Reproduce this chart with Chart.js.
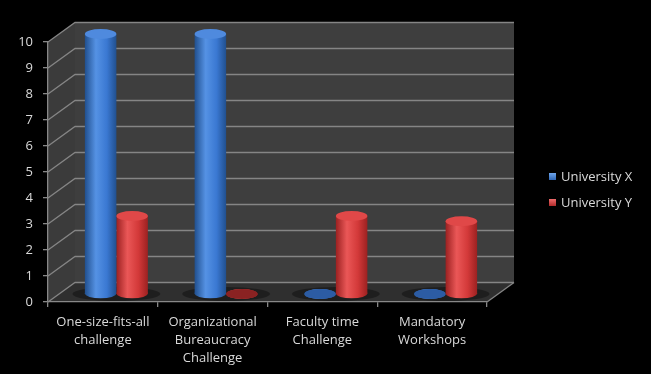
<!DOCTYPE html>
<html>
<head>
<meta charset="utf-8">
<script src="https://cdn.jsdelivr.net/npm/chart.js@4/dist/chart.umd.min.js"></script>
<style>
  html, body { margin: 0; padding: 0; background: #000; }
  #wrap { position: relative; width: 651px; height: 374px; background: #000; }
  .leg { position: absolute; left: 549px; font: 13px "Open Sans"; color: #d9d9d9; line-height: 18px; white-space: nowrap; }
  .leg i { display: inline-block; width: 7px; height: 7px; margin-right: 5px; vertical-align: 1px; }
</style>
</head>
<body>
<div id="wrap">
  <canvas id="myChart" width="651" height="374"></canvas>
  <div class="leg" style="top:167px"><i style="background:linear-gradient(#6fa6ec,#2f66b4)"></i>University X</div>
  <div class="leg" style="top:193px"><i style="background:linear-gradient(#ee6b6b,#b02a2a)"></i>University Y</div>
</div>
<script>
const categories = [
  ["One-size-fits-all", "challenge"],
  ["Organizational", "Bureaucracy", "Challenge"],
  ["Faculty time", "Challenge"],
  ["Mandatory", "Workshops"]
];
const universityX = [10, 10, 0, 0];
const universityY = [3, 0, 3, 2.8];
const yTicks = [0, 1, 2, 3, 4, 5, 6, 7, 8, 9, 10];

const DX = 27, DY = 19.5;      // depth of the 3d box
const BX = 13.5, BY = -8;      // bars sit at mid depth
const CAT_PCT = 0.574;

const colors = {
  blue: { edge: "#21508f", light: "#5592e4", mid: "#3a78d2", cap: "#4f8ade", flat: "#2c5ca4" },
  red: { edge: "#9c2121", light: "#ea5757", mid: "#d33939", cap: "#e04848", flat: "#8a2222" }
};

function cylFill(c, pal) {
  if (c.type !== "data") return pal.mid;
  const chart = c.chart, x = chart.scales.x;
  if (!x || !x.width) return pal.mid;
  const w = (x.width / categories.length) * CAT_PCT / 2;
  const cx = x.getPixelForValue(c.dataIndex) + (c.datasetIndex === 0 ? -w / 2 : w / 2);
  const g = chart.ctx.createLinearGradient(cx - w / 2, 0, cx + w / 2, 0);
  g.addColorStop(0, pal.edge);
  g.addColorStop(0.35, pal.light);
  g.addColorStop(0.7, pal.mid);
  g.addColorStop(1, pal.edge);
  return g;
}

const box3d = {
  id: "box3d",
  beforeDraw(chart) {
    const { ctx, chartArea: a, scales: { y } } = chart;
    ctx.save();
    ctx.fillStyle = "#000";
    ctx.fillRect(0, 0, chart.width, chart.height);
    // floor
    ctx.fillStyle = "#2f2f2f";
    ctx.beginPath();
    ctx.moveTo(a.left, a.bottom);
    ctx.lineTo(a.right, a.bottom);
    ctx.lineTo(a.right + DX, a.bottom - DY);
    ctx.lineTo(a.left + DX, a.bottom - DY);
    ctx.closePath();
    ctx.fill();
    // left wall
    ctx.fillStyle = "#3b3b3b";
    ctx.beginPath();
    ctx.moveTo(a.left, a.bottom);
    ctx.lineTo(a.left, a.top);
    ctx.lineTo(a.left + DX, a.top - DY);
    ctx.lineTo(a.left + DX, a.bottom - DY);
    ctx.closePath();
    ctx.fill();
    // back wall
    ctx.fillStyle = "#3e3e3e";
    ctx.fillRect(a.left + DX, a.top - DY, a.right - a.left, a.bottom - a.top);
    // grid lines
    ctx.strokeStyle = "#858585";
    ctx.lineWidth = 1.3;
    yTicks.forEach(v => {
      const py = y.getPixelForValue(v);
      ctx.beginPath();
      ctx.moveTo(a.left, py);
      ctx.lineTo(a.left + DX, py - DY);
      ctx.lineTo(a.right + DX, py - DY);
      ctx.stroke();
    });
    // floor right edge
    ctx.beginPath();
    ctx.moveTo(a.right, a.bottom);
    ctx.lineTo(a.right + DX, a.bottom - DY);
    ctx.stroke();
    ctx.restore();
  },
  beforeDatasetsDraw(chart) {
    const { ctx, scales: { x }, chartArea: a } = chart;
    ctx.save();
    ctx.translate(BX, BY);
    // soft shadows on the floor
    ctx.fillStyle = "rgba(0,0,0,0.35)";
    categories.forEach((c, i) => {
      const cx = x.getPixelForValue(i);
      ctx.beginPath();
      ctx.ellipse(cx, a.bottom, 44, 7, 0, 0, Math.PI * 2);
      ctx.fill();
    });
  },
  afterDatasetsDraw(chart) {
    const { ctx } = chart;
    chart.data.datasets.forEach((ds, di) => {
      const pal = di === 0 ? colors.blue : colors.red;
      chart.getDatasetMeta(di).data.forEach((el, i) => {
        const rx = el.width / 2, ry = 5;
        ctx.fillStyle = el.options.backgroundColor;
        ctx.beginPath();
        ctx.ellipse(el.x, el.base, rx, ry, 0, 0, Math.PI * 2);
        ctx.fill();
        ctx.fillStyle = ds.data[i] === 0 ? pal.flat : pal.cap;
        ctx.beginPath();
        ctx.ellipse(el.x, el.y, rx, ry, 0, 0, Math.PI * 2);
        ctx.fill();
      });
    });
    ctx.restore();
  }
};

const tickFont = { family: "Open Sans", size: 13, lineHeight: "18px" };

new Chart(document.getElementById("myChart"), {
  type: "bar",
  data: {
    labels: categories,
    datasets: [
      { label: "University X", data: universityX, backgroundColor: c => cylFill(c, colors.blue), borderWidth: 0, clip: false },
      { label: "University Y", data: universityY, backgroundColor: c => cylFill(c, colors.red), borderWidth: 0, clip: false }
    ]
  },
  options: {
    responsive: false,
    animation: false,
    layout: { padding: { left: 0, right: 164, top: 42, bottom: 0 } },
    datasets: { bar: { categoryPercentage: CAT_PCT, barPercentage: 1 } },
    plugins: { legend: { display: false }, tooltip: { enabled: false } },
    scales: {
      x: {
        afterFit: s => { s.height = 72; },
        grid: { offset: true, drawOnChartArea: false, tickLength: 5, color: "#888", lineWidth: 1.3 },
        border: { color: "#888", width: 1.3 },
        ticks: { color: "#d9d9d9", font: tickFont, padding: 6, maxRotation: 0, autoSkip: false }
      },
      y: {
        min: 0,
        max: 10,
        afterFit: s => { s.width = 48; },
        afterBuildTicks: s => { s.ticks = yTicks.map(v => ({ value: v })); },
        grid: { drawOnChartArea: false, tickLength: 5, color: "#888", lineWidth: 1.3 },
        border: { color: "#888", width: 1.3 },
        ticks: { color: "#d9d9d9", font: tickFont, padding: 10 }
      }
    }
  },
  plugins: [box3d]
});
</script>
</body>
</html>
